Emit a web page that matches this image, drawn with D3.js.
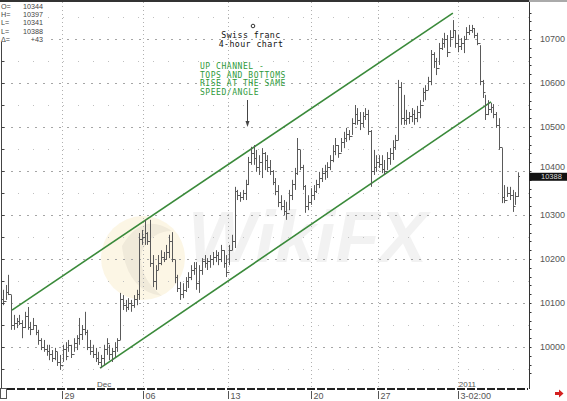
<!DOCTYPE html>
<html><head><meta charset="utf-8">
<script src="https://cdn.jsdelivr.net/npm/d3@7"></script>
<style>body{margin:0;background:#fff}svg{display:block}</style>
</head><body>
<svg id="c" width="567" height="401"></svg>
<script>
// ---- data ----
const highs = [10130,10141,10164,10118,10073,10066,10073,10061,10080,10091,10057,10066,10050,10039,10020,10016,10005,10005,9993,9998,9989,9982,10005,
10011,10016,10005,10020,10027,10066,10050,10080,10039,10016,10005,9998,9989,9982,10005,10020,10005,9998,10011,10020,10123,10118,10107,10111,10107,10118,10130,10259,10266,10289,
10261,10289,10209,10186,10209,10220,10216,10232,10255,10261,10198,10164,10148,10145,10159,10170,10186,10193,10193,10186,10202,10209,10202,10209,10216,10220,10216,10232,10220,10209,10232,
10255,10364,10357,10352,10357,10380,10432,10455,10459,10448,10436,10452,10443,10436,10425,10402,10384,10368,10345,10334,10330,10357,10380,10407,10475,10448,10414,10368,10345,10361,10368,
10380,10398,10407,10414,10420,10436,10459,10475,10459,10475,10489,10498,10493,10520,10550,10543,10534,10534,10543,10539,10493,10448,10436,10436,10436,
10425,10443,10452,10470,10482,10607,10602,10573,10539,10534,10543,10539,10548,10561,10589,10595,10614,10675,10670,10657,10691,10702,10714,10709,10720,10743,10720,10709,10702,10707,
10727,10732,10732,10725,10714,10686,10607,10573,10561,10555,10552,10534,10520,10452,10368,10364,10364,10357,10352,10397];
const lows = [10095,10107,10118,10039,10039,10043,10050,10020,10043,10039,10027,10039,10027,10005,9993,9989,9980,9970,9966,9970,9957,9948,9966,
9970,9989,9975,9989,9993,10005,10016,10027,9993,9982,9975,9966,9959,9952,9959,9982,9970,9966,9975,9989,10016,10084,10080,10084,10080,10089,10095,10107,10232,10232,
10232,10182,10136,10130,10175,10186,10193,10198,10202,10193,10145,10125,10107,10111,10125,10134,10152,10164,10130,10123,10164,10180,10175,10180,10186,10193,10186,10193,10180,10159,10186,
10220,10225,10334,10330,10334,10334,10368,10414,10414,10398,10391,10384,10402,10398,10391,10368,10345,10318,10311,10300,10289,10311,10334,10357,10391,10402,10357,10305,10311,10323,10334,
10350,10361,10375,10380,10384,10402,10420,10436,10430,10443,10452,10466,10470,10482,10505,10505,10493,10500,10516,10482,10364,10391,10398,10407,10395,
10391,10402,10414,10425,10448,10470,10505,10505,10505,10507,10511,10505,10511,10520,10557,10561,10584,10595,10634,10618,10641,10675,10680,10659,10682,10702,10680,10670,10675,10668,
10698,10709,10714,10702,10686,10595,10566,10516,10527,10532,10520,10498,10448,10327,10327,10341,10334,10307,10323,10341];
const closes = [10105,10125,10120,10050,10055,10060,10055,10045,10070,10045,10040,10050,10035,10015,10000,9995,9990,9985,9975,9990,9965,9960,9995,
9980,10005,9985,10010,10020,10030,10040,10035,10000,9990,9985,9975,9965,9975,9995,10010,9985,9990,10000,10015,10110,10095,10090,10100,10095,10110,10120,10245,10250,10260,
10240,10190,10150,10175,10190,10205,10200,10215,10240,10200,10160,10135,10120,10130,10150,10160,10175,10180,10145,10175,10195,10190,10195,10200,10205,10210,10200,10220,10190,10170,10220,
10240,10355,10345,10340,10350,10370,10420,10440,10430,10410,10420,10440,10425,10410,10400,10375,10355,10330,10320,10310,10305,10345,10370,10395,10450,10410,10365,10320,10330,10345,10355,
10370,10385,10395,10400,10410,10425,10445,10460,10440,10465,10475,10485,10480,10510,10530,10515,10510,10525,10530,10490,10400,10410,10420,10415,10405,
10400,10430,10440,10455,10470,10590,10520,10515,10520,10525,10530,10520,10535,10550,10580,10585,10605,10665,10650,10635,10680,10690,10700,10670,10705,10720,10690,10685,10690,10700,
10715,10720,10725,10710,10690,10605,10580,10530,10540,10545,10530,10505,10455,10340,10335,10350,10345,10320,10344,10388];
const firstOpen = 10110;
const weekTickAt = [21.5, 51.5, 82.5, 113, 137.5, 167];
const weekTickLabels = ["29","06","13","20","27","3-02:00"];
const monthLabels = [{at:34.5, text:"Dec"},{at:167.3, text:"2011"}];
const priceTicks = [10000,10100,10200,10300,10400,10500,10600,10700];
const channelUpper = [[3.3,10084],[165.1,10759]];
const channelLower = [[35.6,9952],[179.1,10557]];
const lastPrice = 10388;
const infoLabels = ["O=","H=","L=","L=","\u0394="];
const infoValues = ["10344","10397","10341","10388","+43"];
const titleLines = ["Swiss franc","4-hour chart"];
const noteLines = ["UP CHANNEL -","TOPS AND BOTTOMS","RISE AT THE SAME","SPEED/ANGLE"];

// ---- drawing ----
const svg = d3.select("#c");
const L = 0, R = 529, T = 2, B = 389;
const x = d3.scaleLinear().domain([0, highs.length - 1]).range([3, 518]);
const y = d3.scaleLinear().domain([10000, 10700]).range([347, 39]);

// watermark
const wm = svg.append("g");
wm.append("circle").attr("cx",143).attr("cy",258).attr("r",42).attr("fill","#f8e8bd").attr("opacity",0.4);
wm.append("path").attr("d","M122,246 Q142,211 172,231 Q152,231 142,251 Q137,276 162,296 Q127,291 122,246Z").attr("fill","#d3ccc0").attr("opacity",0.3);
wm.append("text").attr("x",188).attr("y",262).attr("font-family","Liberation Sans, Arial, sans-serif")
  .attr("font-size",72).attr("font-weight","bold").attr("font-style","italic")
  .attr("fill","#cccccc").attr("opacity",0.25).text("WikiFX");

// grid
const g = svg.append("g");
d3.range(9950, 10751, 50).forEach(v => {
  const yy = y(v); if (yy < T || yy > B) return;
  const major = v % 100 === 0;
  g.append("line").attr("x1",L+3).attr("x2",R).attr("y1",Math.round(yy)+0.5).attr("y2",Math.round(yy)+0.5)
    .attr("stroke", major ? "#a5a5a5" : "#c0c0c0").attr("stroke-dasharray", major ? "2,6" : "1,14");
});
weekTickAt.forEach(t => {
  const xx = Math.round(x(t)) + 0.5;
  g.append("line").attr("x1",xx).attr("x2",xx).attr("y1",T).attr("y2",B)
    .attr("stroke","#b0b0b0").attr("stroke-dasharray","1,3");
});

// channel lines
const line = d3.line().x(d => x(d[0])).y(d => y(d[1]));
[channelUpper, channelLower].forEach(c => {
  svg.append("path").attr("d", line(c)).attr("stroke","#3a8a3a").attr("stroke-width",1.6).attr("fill","none");
});

// OHLC bars
const bars = svg.append("g").attr("stroke","#5a5a5a").attr("stroke-width",1);
highs.forEach((h, i) => {
  const xx = Math.round(x(i)) + 0.5;
  const o = i === 0 ? firstOpen : closes[i-1];
  bars.append("line").attr("x1",xx).attr("x2",xx).attr("y1",y(h)).attr("y2",y(lows[i]));
  bars.append("line").attr("x1",xx-1.5).attr("x2",xx).attr("y1",Math.round(y(o))+0.5).attr("y2",Math.round(y(o))+0.5);
  bars.append("line").attr("x1",xx).attr("x2",xx+1.5).attr("y1",Math.round(y(closes[i]))+0.5).attr("y2",Math.round(y(closes[i]))+0.5);
});

// frame: top, left, right axis
svg.append("line").attr("x1",0).attr("x2",R).attr("y1",1).attr("y2",1).attr("stroke","#333").attr("stroke-width",2);
svg.append("line").attr("x1",R).attr("x2",567).attr("y1",1).attr("y2",1).attr("stroke","#aaa").attr("stroke-width",2);
svg.append("line").attr("x1",1.5).attr("x2",1.5).attr("y1",42).attr("y2",B).attr("stroke","#444");
svg.append("line").attr("x1",R+0.5).attr("x2",R+0.5).attr("y1",T).attr("y2",B).attr("stroke","#333");
d3.range(9940, 10761, 10).forEach(v => {
  const yy = Math.round(y(v)) + 0.5; if (yy < T+2 || yy > B-1) return;
  if (v % 20 === 0) svg.append("line").attr("x1",R+0.5).attr("x2",R+2.5).attr("y1",yy).attr("y2",yy).attr("stroke","#333");
  if (v % 50 === 0 && yy > 44) svg.append("line").attr("x1",1.5).attr("x2",4.5).attr("y1",yy).attr("y2",yy).attr("stroke","#444");
});
const yAxis = svg.append("g").attr("font-family","Liberation Sans, Arial, sans-serif").attr("font-size",9).attr("fill","#555");
priceTicks.forEach(v => {
  const near = Math.abs(y(v) - y(lastPrice)) < 9;
  yAxis.append("text").attr("x",540).attr("y",y(v) - (near ? 4 : 0)).attr("dy","0.35em").text(v);
});
// last price box
svg.append("rect").attr("x",R+0.5).attr("y",y(lastPrice)-3.5).attr("width",38).attr("height",8).attr("fill","#111");
svg.append("text").attr("x",541).attr("y",y(lastPrice)+0.5).attr("dy","0.35em").attr("font-family","Liberation Sans, Arial, sans-serif")
  .attr("font-size",7.5).attr("fill","#ddd").text(lastPrice);

// bottom axis
svg.append("line").attr("x1",7).attr("x2",R-1).attr("y1",B).attr("y2",B).attr("stroke","#222").attr("stroke-width",2).attr("stroke-dasharray","8,2");
svg.append("rect").attr("x",0.5).attr("y",388.5).attr("width",6).attr("height",10).attr("fill","#fff").attr("stroke","#555");
const xAxis = svg.append("g").attr("font-family","Liberation Sans, Arial, sans-serif").attr("font-size",9).attr("fill","#555");
weekTickAt.forEach((t, k) => {
  const xx = Math.round(x(t)) + 0.5;
  xAxis.append("line").attr("x1",xx).attr("x2",xx).attr("y1",391).attr("y2",399).attr("stroke","#555");
  xAxis.append("text").attr("x",xx+2).attr("y",398.5).text(weekTickLabels[k]);
});
monthLabels.forEach(m => {
  xAxis.append("text").attr("x",x(m.at)).attr("y",387).attr("font-size",8).text(m.text);
});
// red arrow
svg.append("path").attr("d","M555,392 h4 v-2.5 l4.5,4 l-4.5,4 v-2.5 h-4z").attr("fill","#d42020");

// info box
const info = svg.append("g").attr("font-family","Liberation Sans, Arial, sans-serif").attr("font-size",7.2).attr("fill","#444");
info.append("rect").attr("x",0).attr("y",2).attr("width",46).attr("height",40).attr("fill","#fff");
infoLabels.forEach((lb, k) => {
  info.append("text").attr("x",1).attr("y",9 + k*8.2).text(lb);
  info.append("text").attr("x",43).attr("y",9 + k*8.2).attr("text-anchor","end").text(infoValues[k]);
});

// title
const title = svg.append("g").attr("font-family","DejaVu Sans Mono, monospace").attr("font-size",8.3).attr("fill","#111")
  .attr("text-anchor","middle").attr("letter-spacing",0.4);
title.append("circle").attr("cx",253).attr("cy",26).attr("r",1.8).attr("fill","none").attr("stroke","#333");
titleLines.forEach((t, k) => title.append("text").attr("x",251).attr("y",37.5 + k*9.3).text(t));

// note
const note = svg.append("g").attr("font-family","DejaVu Sans Mono, monospace").attr("font-size",8).attr("fill","#2f9a3a").attr("letter-spacing",0.55);
noteLines.forEach((t, k) => note.append("text").attr("x",200).attr("y",69 + k*8.6).text(t));
svg.append("line").attr("x1",247.5).attr("x2",247.5).attr("y1",100).attr("y2",124).attr("stroke","#444");
svg.append("path").attr("d","M245.5,121 L249.5,121 L247.5,127Z").attr("fill","#444");
</script>
</body></html>
